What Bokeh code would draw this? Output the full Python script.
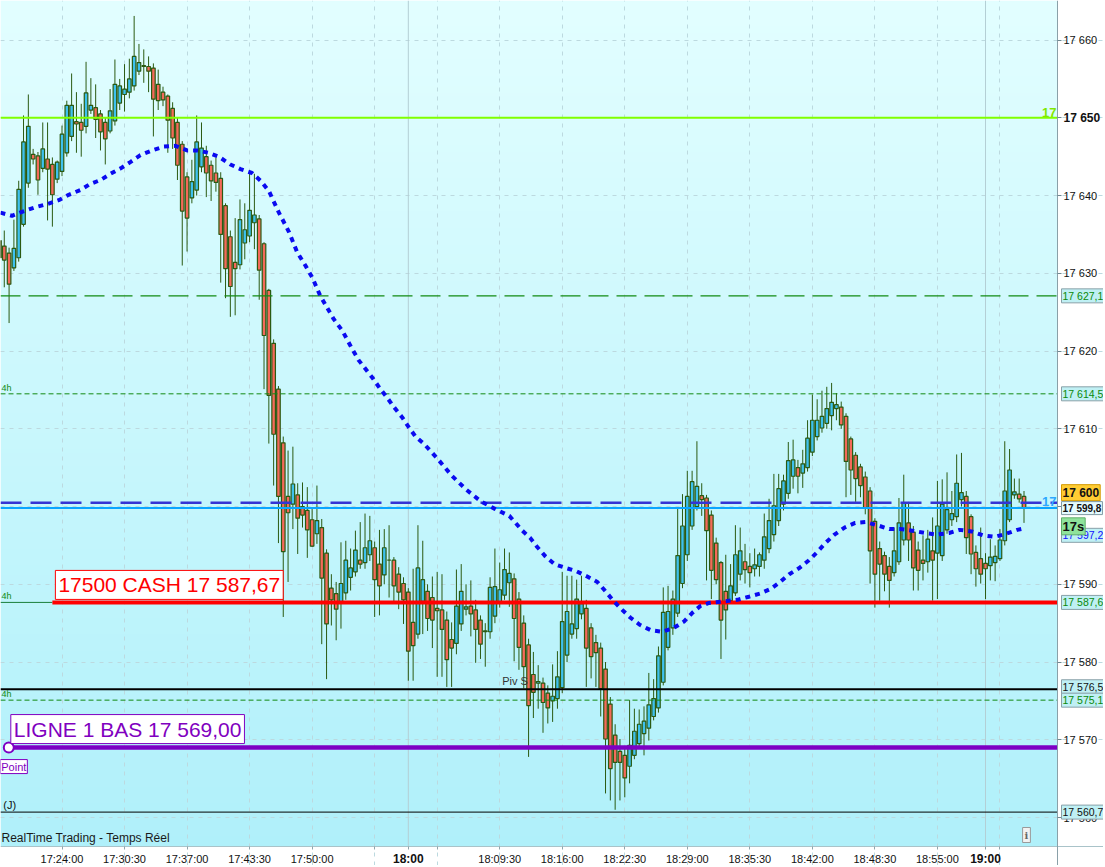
import numpy as np
from bokeh.plotting import figure
from bokeh.models import Range1d, FixedTicker, Label, ColumnDataSource, LinearAxis, Grid
from bokeh.embed import file_html
from bokeh.resources import INLINE

# ---------------- data (30-second bars, index 0 = 17:24:00) ----------------
bar_index = list(range(-13, 201))

open_ = [
    17634.2, 17633.5, 17632.6, 17630.7, 17632.0, 17636.3, 17641.6, 17645.3, 17645.1, 17643.5,
    17644.7, 17644.0, 17642.1, 17643.1, 17645.5, 17647.6, 17649.5, 17649.4, 17648.9, 17651.0,
    17651.3, 17650.5, 17649.4, 17648.3, 17649.6, 17651.9, 17653.0, 17653.3, 17654.1, 17656.0,
    17656.6, 17656.6, 17656.4, 17654.3, 17653.3, 17652.8, 17651.2, 17649.4, 17646.6, 17642.4,
    17639.7, 17640.7, 17643.7, 17645.0, 17643.9, 17642.9, 17642.2, 17638.7, 17634.7, 17631.4,
    17631.1, 17633.9, 17634.8, 17636.5, 17637.0, 17633.8, 17627.8, 17621.0, 17615.1, 17608.2,
    17601.3, 17600.3, 17601.5, 17600.0, 17599.5, 17598.3, 17596.5, 17597.3, 17594.0, 17589.5,
    17588.8, 17587.7, 17588.9, 17590.9, 17591.6, 17593.1, 17592.8, 17593.8, 17594.7, 17592.6,
    17591.2, 17593.1, 17593.1, 17591.3, 17590.1, 17589.0, 17585.1, 17583.6, 17587.8, 17589.1,
    17588.3, 17586.9, 17586.7, 17585.4, 17582.9, 17582.4, 17584.9, 17586.8, 17587.2, 17586.7,
    17585.4, 17583.9, 17583.9, 17585.9, 17587.7, 17588.6, 17590.2, 17590.7, 17588.1, 17585.0,
    17582.2, 17578.4, 17577.3, 17577.3, 17576.0, 17575.0, 17575.3, 17576.7, 17580.9, 17583.6,
    17584.3, 17586.2, 17586.9, 17584.4, 17582.5, 17581.8, 17579.1, 17574.6, 17570.6, 17568.5,
    17568.0, 17566.6, 17568.0, 17569.5, 17570.8, 17571.5, 17573.0, 17574.1, 17577.4, 17581.9,
    17584.4, 17586.3, 17590.1, 17593.8, 17597.5, 17600.0, 17601.4, 17601.1, 17598.9, 17595.3,
    17592.8, 17589.1, 17587.9, 17588.9, 17591.3, 17592.9, 17592.3, 17592.0, 17592.3, 17593.1,
    17594.6, 17596.4, 17598.2, 17600.3, 17601.7, 17603.9, 17605.0, 17604.3, 17605.0, 17607.0,
    17609.0, 17610.1, 17610.7, 17611.7, 17612.6, 17612.8, 17611.6, 17608.7, 17606.6, 17605.1,
    17603.8, 17602.0, 17598.1, 17594.6, 17593.7, 17592.3, 17591.5, 17592.9, 17595.7, 17597.9,
    17596.7, 17594.4, 17593.1, 17592.9, 17594.3, 17594.0, 17593.7, 17597.0, 17598.3, 17598.7,
    17600.9, 17601.3, 17598.7, 17594.1, 17593.3, 17592.7, 17592.4, 17592.8, 17593.3, 17595.6,
    17598.3, 17601.5, 17601.6, 17601.3,
]
high = [
    17636.0, 17635.5, 17633.3, 17636.9, 17641.9, 17650.3, 17653.0, 17646.0, 17645.6, 17649.4,
    17649.4, 17644.9, 17644.5, 17649.0, 17652.2, 17655.7, 17653.3, 17651.8, 17657.2, 17655.1,
    17654.3, 17651.0, 17650.0, 17653.7, 17657.5, 17655.0, 17656.9, 17657.6, 17663.1, 17659.5,
    17658.8, 17657.9, 17657.0, 17656.2, 17654.0, 17653.0, 17652.0, 17650.0, 17647.0, 17643.0,
    17644.6, 17650.3, 17649.4, 17646.4, 17644.5, 17644.9, 17643.0, 17639.0, 17635.5, 17637.1,
    17639.5, 17639.0, 17642.8, 17642.8, 17637.5, 17634.0, 17628.0, 17621.5, 17615.5, 17609.0,
    17607.2, 17607.7, 17603.0, 17603.1, 17602.5, 17599.7, 17602.7, 17598.4, 17594.5, 17591.3,
    17590.3, 17595.4, 17595.6, 17594.6, 17596.9, 17598.0, 17599.1, 17598.8, 17595.5, 17597.0,
    17597.1, 17597.6, 17593.5, 17592.2, 17590.9, 17589.5, 17592.0, 17597.6, 17595.6, 17590.0,
    17591.0, 17591.6, 17591.3, 17586.5, 17585.1, 17591.9, 17592.6, 17590.0, 17590.5, 17588.0,
    17586.0, 17585.0, 17590.9, 17594.6, 17592.8, 17594.6, 17594.1, 17591.4, 17589.0, 17586.0,
    17583.0, 17581.3, 17579.6, 17578.0, 17577.0, 17579.7, 17581.4, 17591.6, 17591.1, 17591.1,
    17590.6, 17591.1, 17588.0, 17585.0, 17583.5, 17582.5, 17580.0, 17575.5, 17572.0, 17570.1,
    17569.0, 17575.1, 17574.0, 17573.9, 17574.3, 17578.6, 17577.8, 17582.0, 17589.6, 17589.8,
    17589.2, 17599.8, 17601.6, 17604.6, 17604.6, 17608.4, 17603.0, 17601.5, 17599.5, 17596.0,
    17593.0, 17593.8, 17592.6, 17597.6, 17597.3, 17595.2, 17594.0, 17594.6, 17594.1, 17599.1,
    17601.0, 17604.2, 17604.2, 17604.1, 17608.3, 17608.6, 17606.0, 17607.3, 17611.1, 17614.4,
    17613.8, 17614.9, 17615.4, 17615.9, 17614.6, 17613.5, 17612.0, 17609.0, 17607.0, 17605.5,
    17604.5, 17602.5, 17598.5, 17595.5, 17594.2, 17593.5, 17597.3, 17601.1, 17604.1, 17600.6,
    17597.5, 17595.5, 17596.3, 17597.0, 17598.6, 17603.3, 17603.5, 17604.4, 17602.0, 17606.7,
    17606.9, 17602.0, 17599.0, 17595.0, 17597.3, 17594.0, 17595.8, 17595.0, 17597.1, 17608.4,
    17607.4, 17603.6, 17603.6, 17602.0,
]
low = [
    17630.0, 17628.2, 17623.6, 17630.3, 17631.5, 17636.0, 17641.0, 17644.0, 17640.1, 17643.0,
    17636.8, 17636.0, 17641.6, 17642.5, 17645.0, 17647.0, 17645.5, 17645.0, 17648.0, 17650.5,
    17647.4, 17645.8, 17644.0, 17648.0, 17649.0, 17651.0, 17650.8, 17652.5, 17653.5, 17655.5,
    17654.5, 17653.3, 17647.6, 17651.0, 17651.5, 17645.5, 17646.0, 17642.0, 17631.0, 17632.8,
    17639.0, 17640.0, 17643.0, 17639.8, 17639.3, 17640.5, 17628.8, 17626.8, 17624.4, 17624.6,
    17630.5, 17631.8, 17634.0, 17633.1, 17626.6, 17615.1, 17608.1, 17602.7, 17595.3, 17585.8,
    17590.3, 17597.1, 17593.9, 17597.3, 17593.4, 17594.8, 17595.2, 17582.3, 17577.8, 17584.7,
    17582.8, 17584.3, 17588.0, 17589.2, 17591.0, 17592.0, 17592.0, 17593.0, 17585.8, 17586.0,
    17590.0, 17588.3, 17587.7, 17586.8, 17584.9, 17577.6, 17577.6, 17583.0, 17583.6, 17584.0,
    17581.8, 17578.1, 17578.1, 17576.8, 17576.8, 17581.0, 17584.0, 17586.0, 17583.3, 17579.9,
    17580.4, 17579.4, 17583.0, 17585.0, 17587.0, 17588.0, 17587.1, 17580.1, 17579.0, 17576.6,
    17567.8, 17572.8, 17574.0, 17570.9, 17572.1, 17572.3, 17574.0, 17576.0, 17580.0, 17583.0,
    17583.0, 17585.5, 17576.8, 17577.9, 17576.8, 17573.0, 17563.1, 17562.2, 17561.0, 17562.2,
    17562.6, 17564.4, 17567.5, 17569.0, 17568.0, 17569.9, 17572.5, 17573.5, 17577.0, 17581.5,
    17583.5, 17585.8, 17589.5, 17593.0, 17597.0, 17599.5, 17598.8, 17590.5, 17588.1, 17590.0,
    17580.4, 17582.9, 17587.5, 17588.5, 17590.5, 17590.1, 17589.6, 17591.0, 17591.0, 17592.0,
    17594.0, 17595.5, 17597.5, 17599.5, 17601.0, 17602.3, 17601.7, 17602.4, 17604.5, 17606.5,
    17608.5, 17609.5, 17610.0, 17609.8, 17611.1, 17610.0, 17601.2, 17601.5, 17600.6, 17601.2,
    17599.0, 17590.1, 17587.0, 17587.9, 17589.1, 17587.0, 17591.0, 17592.5, 17595.0, 17593.0,
    17589.2, 17589.2, 17590.5, 17591.5, 17587.9, 17588.1, 17593.0, 17596.5, 17597.5, 17598.0,
    17600.0, 17593.9, 17591.3, 17589.7, 17590.1, 17588.1, 17590.5, 17590.4, 17593.0, 17595.0,
    17598.0, 17601.0, 17600.5, 17597.9,
]
close = [
    17632.0, 17631.7, 17628.6, 17633.2, 17640.8, 17646.9, 17648.9, 17644.7, 17642.0, 17646.0,
    17643.4, 17640.1, 17644.3, 17647.9, 17651.6, 17651.6, 17649.2, 17648.4, 17653.2, 17651.6,
    17649.8, 17648.2, 17647.3, 17650.9, 17654.3, 17654.1, 17653.7, 17655.0, 17657.9, 17657.1,
    17656.7, 17656.0, 17652.4, 17652.2, 17652.3, 17649.7, 17647.4, 17643.9, 17638.0, 17637.1,
    17641.8, 17646.9, 17646.1, 17642.9, 17641.9, 17641.7, 17635.0, 17630.6, 17628.3, 17630.6,
    17636.9, 17635.6, 17638.1, 17637.5, 17630.4, 17622.0, 17614.3, 17609.3, 17601.3, 17594.2,
    17599.2, 17602.9, 17598.5, 17598.9, 17597.0, 17594.9, 17598.2, 17590.8, 17584.9, 17588.0,
    17586.8, 17590.1, 17593.1, 17592.1, 17594.4, 17592.6, 17594.7, 17595.6, 17590.6, 17589.8,
    17594.7, 17593.1, 17589.8, 17589.0, 17588.0, 17581.4, 17582.1, 17592.1, 17590.6, 17585.6,
    17585.4, 17586.6, 17584.2, 17580.3, 17581.8, 17587.2, 17589.1, 17587.1, 17586.2, 17584.2,
    17582.3, 17584.0, 17589.6, 17589.7, 17589.3, 17591.9, 17591.4, 17585.6, 17581.9, 17579.4,
    17574.4, 17576.1, 17577.5, 17574.8, 17574.1, 17575.6, 17578.1, 17585.2, 17586.5, 17584.9,
    17588.1, 17587.5, 17581.8, 17580.7, 17581.2, 17576.6, 17570.1, 17566.3, 17567.1, 17567.1,
    17565.1, 17569.3, 17571.1, 17572.0, 17572.4, 17574.5, 17575.3, 17580.8, 17586.4, 17586.5,
    17588.1, 17593.7, 17597.5, 17601.3, 17603.2, 17602.6, 17600.9, 17596.9, 17591.8, 17590.6,
    17585.4, 17586.7, 17589.8, 17593.8, 17594.3, 17591.9, 17591.5, 17592.5, 17593.8, 17596.1,
    17598.2, 17600.1, 17602.3, 17603.3, 17605.9, 17606.0, 17603.9, 17605.5, 17608.8, 17611.1,
    17611.1, 17611.6, 17612.6, 17613.4, 17613.1, 17610.5, 17605.8, 17604.7, 17603.6, 17602.7,
    17599.8, 17594.3, 17591.3, 17592.6, 17591.3, 17590.5, 17594.3, 17597.9, 17600.4, 17595.7,
    17592.1, 17591.8, 17592.7, 17595.8, 17593.1, 17597.5, 17600.3, 17599.6, 17599.1, 17603.0,
    17601.8, 17596.0, 17593.9, 17592.0, 17591.3, 17592.0, 17593.5, 17593.6, 17595.7, 17602.0,
    17604.7, 17601.9, 17601.0, 17599.8,
]

# moving average
ma_index = [
    -12.8, -10.4, -7.9, -5.5, -3.1, -0.7, 1.4, 3.8, 5.9, 8.0,
    10.1, 12.2, 14.2, 16.3, 18.7, 21.2, 23.6, 26.0, 28.1,
    30.5, 32.6, 35.0, 37.1, 39.5, 41.3, 43.0, 45.1, 47.2, 48.9,
    50.6, 52.0, 53.7, 55.1, 56.5, 58.3, 60.3, 61.7, 64.5, 66.2,
    67.6, 69.0, 70.7, 72.1, 73.5, 75.2, 78.0, 81.0, 84.0, 87.0,
    90.0, 93.0, 95.7, 97.3, 98.8, 100.5, 102.4, 104.7, 106.9, 109.2,
    111.3, 113.0, 114.6, 116.3, 118.2, 120.1, 122.4, 124.8, 127.2, 129.3,
    131.0, 132.7, 134.5, 137.5, 140.4, 142.8, 145.1, 147.3, 149.3, 151.2,
    153.3, 155.3, 157.1, 158.7, 160.6, 162.7, 164.9, 167.0, 169.5, 172.0,
    174.3, 176.8, 179.4, 181.9, 184.4, 186.6, 189.1, 191.5, 193.9, 196.3,
    198.6, 200.0,
]
ma_value = [
    17637.8, 17637.4, 17638.0, 17638.5, 17638.9, 17639.4, 17640.1, 17640.7, 17641.5, 17642.0,
    17642.8, 17643.5, 17644.3, 17645.2, 17645.8, 17646.3, 17646.4, 17645.8, 17645.8,
    17645.5, 17645.0, 17644.0, 17643.4, 17642.9, 17641.9, 17640.6, 17637.8, 17635.3, 17632.7,
    17631.0, 17629.5, 17627.1, 17625.6, 17624.1, 17622.6, 17620.3, 17618.8, 17616.6, 17615.1,
    17614.0, 17612.8, 17611.5, 17610.2, 17609.0, 17608.1, 17606.2, 17604.0, 17602.2, 17600.7,
    17599.7, 17598.8, 17596.9, 17596.0, 17594.8, 17593.6, 17592.6, 17592.1, 17591.7, 17591.0,
    17590.3, 17589.1, 17587.9, 17586.8, 17585.7, 17584.8, 17584.1, 17583.9, 17584.4, 17585.2,
    17586.3, 17587.2, 17587.6, 17587.8, 17588.0, 17588.4, 17588.8, 17589.4, 17590.3, 17591.3,
    17592.1, 17593.1, 17594.2, 17595.3, 17596.4, 17597.3, 17597.9, 17598.0, 17597.6, 17597.1,
    17597.1, 17596.9, 17596.6, 17596.4, 17596.6, 17597.0, 17596.8, 17596.3, 17596.1, 17596.5,
    17597.0, 17597.2,
]

time_tick_index = [0, 13, 26, 39, 52, 65, 78, 91, 104, 117, 130, 143, 156, 169, 182, 195]
time_tick_labels = ["17:24:00", "17:30:30", "17:37:00", "17:43:30", "17:50:00", "", "",
                    "18:09:30", "18:16:00", "18:22:30", "18:29:00", "18:35:30", "18:42:00",
                    "18:48:30", "18:55:00", ""]
hour_tick_index = [72, 192]
hour_tick_labels = ["18:00", "19:00"]

price_ticks = [17560, 17570, 17580, 17590, 17600, 17610, 17620, 17630, 17640, 17650, 17660]
price_tick_labels = ["17 560", "17 570", "17 580", "17 590", "", "17 610", "17 620",
                     "17 630", "17 640", "", "17 660"]
bold_price_tick = 17650
bold_price_label = "17 650"

level_green = 17650.0
level_dash_green = 17627.1
level_dot_green = 17614.5
level_blue_dash = 17600.5
level_last = close[-1]
level_cash = 17587.67
level_pivot = 17576.5
level_dash_green2 = 17575.1
level_ligne = 17569.0
level_day = 17560.7

cash_start_index = -2
cash_text = "17500 CASH 17 587,67"
ligne_start_index = -11.06
ligne_text = "LIGNE 1 BAS 17 569,00"
pivot_text = "Piv S"
pivot_text_index = 94.2
day_text = "(J)"
day_text_index = -12.2
h4_levels = [17614.5, 17587.67, 17575.1]
h4_texts = ["4h", "4h", "4h"]

# ---------------- layout ----------------
PX_PER_BAR = 4.81
PX_PER_POINT = 7.775
W, H = 1103, 865
CHART_W, CHART_H = 1057, 846          # plotting area; axes live in the strips beyond
x_start = -61.5 / PX_PER_BAR
x_end = x_start + W / PX_PER_BAR
x_edge = x_start + CHART_W / PX_PER_BAR
y_end = 17650 + 117.3 / PX_PER_POINT
y_start = y_end - H / PX_PER_POINT
y_edge = y_end - CHART_H / PX_PER_POINT

FONT = "Liberation Sans"

p = figure(width=W, height=H, output_backend="svg", toolbar_location=None,
           x_range=Range1d(x_start, x_end), y_range=Range1d(y_start, y_end),
           x_axis_type=None, y_axis_type=None,
           min_border_left=0, min_border_top=0, min_border_right=0, min_border_bottom=0,
           border_fill_color="white", background_fill_color="white",
           outline_line_color=None)

# gradient background of the chart area
n = 256
t = np.linspace(0.0, 1.0, n)[:, None]
bottom_rgb = np.array([176.0, 240.0, 250.0])
top_rgb = np.array([226.0, 254.0, 255.0])
rgb = bottom_rgb + (top_rgb - bottom_rgb) * t
img = np.zeros((n, 1), dtype=np.uint32)
view = img.view(dtype=np.uint8).reshape((n, 1, 4))
view[:, 0, 0:3] = np.round(rgb).astype(np.uint8)
view[:, 0, 3] = 255
p.image_rgba(image=[img], x=x_start, y=y_edge, dw=x_edge - x_start, dh=y_end - y_edge,
             level="image")

# grids
GRID = "#bcd9df"
p.add_layout(Grid(dimension=0, ticker=FixedTicker(ticks=time_tick_index),
                  grid_line_color=GRID, grid_line_dash="4 5"))
p.add_layout(Grid(dimension=1, ticker=FixedTicker(ticks=price_ticks),
                  grid_line_color=GRID, grid_line_dash="4 5"))
# white axis strips (cover the grid outside the chart area)
p.quad(left=[x_edge, x_start], right=[x_end + 5, x_end + 5],
       bottom=[y_start - 5, y_start - 5], top=[y_end + 5, y_edge],
       fill_color="white", line_color=None, level="underlay")
p.segment(x0=hour_tick_index, y0=[y_edge] * len(hour_tick_index),
          x1=hour_tick_index, y1=[y_end] * len(hour_tick_index),
          line_color="#b3cfd5", line_width=1)

# axes (fixed at the chart edges)
xa = LinearAxis(fixed_location=y_edge)
xa.ticker = FixedTicker(ticks=time_tick_index + hour_tick_index)
overrides = {k: v for k, v in zip(time_tick_index, time_tick_labels)}
overrides.update({k: "" for k in hour_tick_index})
xa.major_label_overrides = overrides
xa.minor_tick_line_color = None
xa.major_tick_in = 0
xa.major_tick_out = 3
xa.major_label_standoff = 3
xa.axis_line_color = "#a9c3c9"
xa.major_tick_line_color = "#8fa6ad"
xa.major_label_text_font = FONT
xa.major_label_text_font_size = "11px"
xa.major_label_text_color = "#111111"
p.add_layout(xa, "below")

ya = LinearAxis(fixed_location=x_edge)
ya.ticker = FixedTicker(ticks=price_ticks)
ya.major_label_overrides = {k: v for k, v in zip(price_ticks, price_tick_labels)}
ya.minor_tick_line_color = None
ya.major_tick_in = 0
ya.major_tick_out = 4
ya.major_label_standoff = 2
ya.axis_line_color = "#8aa0a8"
ya.major_tick_line_color = "#6f8890"
ya.major_label_text_font = FONT
ya.major_label_text_font_size = "11px"
ya.major_label_text_color = "#111111"
p.add_layout(ya, "right")

# candles
UP, DOWN, WICK = "#3ec1ee", "#f46a5a", "#2b5a12"
src = ColumnDataSource(dict(
    x=bar_index,
    high=high, low=low,
    top=[max(o, c) for o, c in zip(open_, close)],
    bottom=[min(o, c) for o, c in zip(open_, close)],
    fill=[UP if c >= o else DOWN for o, c in zip(open_, close)],
))
p.segment(x0="x", y0="low", x1="x", y1="high", source=src, line_color=WICK, line_width=1)
p.vbar(x="x", width=0.74, top="top", bottom="bottom", source=src,
       fill_color="fill", line_color=WICK, line_width=1.2)

# horizontal levels (ending at the price axis)
def level(y, x0=None, **kw):
    p.segment(x0=[x_start if x0 is None else x0], y0=[y], x1=[x_edge], y1=[y], **kw)

level(level_green, line_color="#80ff00", line_width=2)
level(level_dash_green, line_color="#128a12", line_width=1.3, line_dash="20 8")
level(level_dot_green, line_color="#128a12", line_width=1, line_dash="5 3")
level(level_blue_dash, line_color="#3434d4", line_width=2.5, line_dash="21 9")
level(level_last, line_color="#0aa6ff", line_width=2)
p.segment(x0=[x_start], y0=[level_cash], x1=[cash_start_index], y1=[level_cash],
          line_color="#1b7f3a", line_width=1)
level(level_cash, x0=cash_start_index, line_color="#ff0000", line_width=4)
level(level_pivot, line_color="#000000", line_width=2)
level(level_dash_green2, line_color="#128a12", line_width=1, line_dash="5 3")
level(level_ligne, x0=ligne_start_index, line_color="#7d00c4", line_width=4.5)
level(level_day, line_color="#000000", line_width=1)

# moving average
p.line(ma_index, ma_value, line_color="#0a0af0", line_width=4, line_dash="5 5")

p.scatter(x=[ligne_start_index], y=[level_ligne], marker="circle", size=10,
          fill_color="white", line_color="#7d00c4", line_width=2)

# ---------------- text annotations ----------------
def lab(**kw):
    base = dict(text_font=FONT)
    base.update(kw)
    p.add_layout(Label(**base))

lab(x=cash_start_index, y=level_cash, x_offset=3, y_offset=3, text=cash_text,
    text_font_size="21px", text_color="#ff0000", text_align="left", text_baseline="bottom",
    background_fill_color="white", border_line_color="#ff0000", padding=3)
lab(x=ligne_start_index, y=level_ligne, x_offset=2, y_offset=4, text=ligne_text,
    text_font_size="21px", text_color="#8000c0", text_align="left", text_baseline="bottom",
    background_fill_color="white", border_line_color="#8000c0", padding=3)
lab(x=ligne_start_index, y=level_ligne, x_offset=5, y_offset=-19, text="Point",
    text_font_size="11px", text_color="#8000c0", text_align="center", text_baseline="middle",
    background_fill_color="white", border_line_color="#8000c0", padding=1)
lab(x=pivot_text_index, y=level_pivot, y_offset=2, text=pivot_text,
    text_font_size="11px", text_color="#333333", text_align="center", text_baseline="bottom")
lab(x=day_text_index, y=level_day, y_offset=1, text=day_text,
    text_font_size="11px", text_color="#111111", text_align="left", text_baseline="bottom")
for lv, tx in zip(h4_levels, h4_texts):
    lab(x=x_start, y=lv, x_offset=1, y_offset=1, text=tx, text_font_size="9px",
        text_color="#128a12", text_align="left", text_baseline="bottom")
lab(x=x_start, y=y_edge, x_offset=1, y_offset=2, text="RealTime Trading - Temps Réel",
    text_font_size="12px", text_color="#1a1a1a", text_align="left", text_baseline="bottom")
lab(x=x_edge, y=y_edge, x_offset=-31, y_offset=4, text="i",
    text_font="DejaVu Serif", text_font_size="10px", text_font_style="bold",
    text_color="#666666", text_align="center", text_baseline="bottom",
    background_fill_color="#f2f2f2", border_line_color="#9a9a9a", padding=2)

# right-edge line tags
lab(x=x_edge, y=level_green, x_offset=-1, y_offset=1, text="17",
    text_font_size="13px", text_font_style="bold", text_color="#80e800",
    text_align="right", text_baseline="bottom")
lab(x=x_edge, y=level_last, x_offset=-1, y_offset=2, text="17",
    text_font_size="13px", text_font_style="bold", text_color="#2ea8ff",
    text_align="right", text_baseline="bottom")

# bold time labels
for xi, txt in zip(hour_tick_index, hour_tick_labels):
    lab(x=xi, y=y_edge, y_offset=-12, text=txt, text_font_size="12px",
        text_font_style="bold", text_color="#111111", text_align="center",
        text_baseline="middle")

# bold price label
lab(x=x_edge, y=bold_price_tick, x_offset=6, text=bold_price_label,
    text_font_size="12px", text_font_style="bold", text_color="#111111",
    text_align="left", text_baseline="middle")

# axis value tags
def tag(value, text, color, bg="#bff0f4", border="#8aa0a8", bold=False, size="10.5px", dy=0):
    lab(x=x_edge, y=value, x_offset=4, y_offset=dy, text=text, text_font_size=size,
        text_font_style="bold" if bold else "normal", text_color=color,
        text_align="left", text_baseline="middle",
        background_fill_color=bg, border_line_color=border, padding=1)

tag(level_dash_green, "17 627,1", "#0a8a0a")
tag(level_dot_green, "17 614,5", "#0a8a0a")
tag(level_blue_dash, "17 600", "#111111", bg="#ffcc33", border="#d49a00", bold=True,
    size="12px", dy=10)
tag(level_last, "17 599,8", "#111111", bg="#e4fbff", border="#7f9aa3", bold=True, size="10px")
tag(ma_value[-1], "17 597,2", "#1010ff", dy=-7)
tag(ma_value[-1], "17s", "#111111", bg="#8fe39b", border="#5fae6b", bold=True, size="13px", dy=2)
tag(level_cash, "17 587,6", "#0a8a0a")
tag(level_pivot, "17 576,5", "#111111", dy=2.5)
tag(level_dash_green2, "17 575,1", "#0a8a0a")
tag(level_day, "17 560,7", "#111111")

open("out.html", "w").write(file_html(p, INLINE))
